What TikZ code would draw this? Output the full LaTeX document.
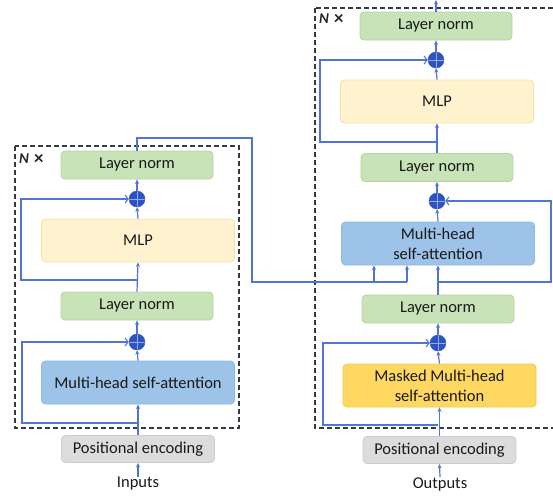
\documentclass[tikz,border=0pt]{standalone}
\usepackage{fontspec}
\setmainfont{Carlito}
\usetikzlibrary{arrows.meta,calc}

\definecolor{wire}{HTML}{5274D6}
\definecolor{lnfill}{HTML}{C8E3B8}
\definecolor{lnline}{HTML}{B2D69E}
\definecolor{mlpfill}{HTML}{FFF3CF}
\definecolor{mlpline}{HTML}{F2E2A6}
\definecolor{attfill}{HTML}{9EC3E8}
\definecolor{attline}{HTML}{8CB6E0}
\definecolor{maskfill}{HTML}{FFD861}
\definecolor{maskline}{HTML}{F2C84C}
\definecolor{pefill}{HTML}{DCDCDC}
\definecolor{peline}{HTML}{CDCDCD}
\definecolor{addfill}{HTML}{2D52C2}
\definecolor{frame}{HTML}{333A45}

\newcommand{\repsmark}{\textit{N}\hspace{5pt}\raisebox{-1.5pt}{\fontsize{19}{19}\selectfont ×}}

\tikzset{
  blk/.style={rounded corners=4pt, line width=0.8pt, inner sep=0pt, align=center,
    font=\fontsize{16.5}{19}\selectfont, text=black!90},
  lnbox/.style={blk, fill=lnfill, draw=lnline, minimum width=152pt, minimum height=28pt},
  mlpbox/.style={blk, fill=mlpfill, draw=mlpline, minimum width=193pt, minimum height=43pt},
  attbox/.style={blk, fill=attfill, draw=attline, minimum width=193pt, minimum height=43pt},
  maskbox/.style={blk, fill=maskfill, draw=maskline, minimum width=193pt, minimum height=43pt},
  pebox/.style={blk, fill=pefill, draw=peline, minimum width=153pt, minimum height=27pt},
  lbl/.style={inner sep=0pt, font=\fontsize{16.5}{19}\selectfont, text=black!90},
  addnode/.style={circle, fill=addfill, draw=addfill, minimum size=16pt, inner sep=0pt,
    path picture={
      \draw[wire!60!white, line width=0.7pt]
        (path picture bounding box.north) -- (path picture bounding box.south)
        (path picture bounding box.west) -- (path picture bounding box.east);}},
  wireline/.style={draw=wire, line width=1.2pt},
  fwd/.style={wireline, -{Stealth[length=4.5pt, width=4pt]}},
  skip/.style={wireline, -{Straight Barb[length=3pt, width=8pt, line width=1.1pt]}},
  stack/.style={draw=frame, line width=1.5pt, dash pattern=on 5pt off 3pt},
  reps/.style={inner sep=0pt, font=\bfseries\fontsize{15}{17}\selectfont, text=black!85}
}

\begin{document}
\begin{tikzpicture}[x=1pt, y=-1pt]
\useasboundingbox (0,0) rectangle (553,496);

% stacked-layer frames
\draw[stack] (15,146) rectangle (239,428);
\begin{scope}
  \clip (0,0) rectangle (553,496);
  \draw[stack] (315,8) rectangle (570,428);
\end{scope}
\node[reps, anchor=west] (repL) at (19,159) {\repsmark};
\node[reps, anchor=west] (repR) at (319,19) {\repsmark};

% ---------- encoder ----------
\node[lnbox]  (lnA)  at (137,165)   {Layer norm};
\node[addnode](addA) at (137,199)   {};
\node[mlpbox] (mlpA) at (138,240.5) {MLP};
\node[lnbox]  (lnB)  at (137,306)   {Layer norm};
\node[addnode](addB) at (137,342)   {};
\node[attbox] (attA) at (138,382.5) {Multi-head self-attention};
\node[pebox]  (peA)  at (138,449)   {Positional encoding};
\node[lbl]    (inA)  at (138,484)   {Inputs};

% ---------- decoder ----------
\node[lnbox]  (lnC)   at (436,26)    {Layer norm};
\node[addnode](addC)  at (436,60)    {};
\node[mlpbox] (mlpC)  at (437,101.5) {MLP};
\node[lnbox]  (lnD)   at (437,167.5) {Layer norm};
\node[addnode](addD)  at (437,201)   {};
\node[attbox] (attC)  at (438,243.5) {Multi-head\\[1pt]self-attention};
\node[lnbox]  (lnE)   at (438,309)   {Layer norm};
\node[addnode](addE)  at (438,343)   {};
\node[maskbox](maskC) at (439.5,385.5) {Masked Multi-head\\[1pt]self-attention};
\node[pebox]  (peC)   at (439.5,450) {Positional encoding};
\node[lbl]    (outC)  at (440,484)   {Outputs};

% branch points
\coordinate (brB) at (137,423);
\coordinate (brA) at (137,280);
\coordinate (brE) at (438,425);
\coordinate (brD) at (438,282);
\coordinate (brC) at (437,142);
\coordinate (top) at (436,0);

% encoder flow
\draw[fwd] (inA.north) -- (peA.south);
\draw[fwd] (peA.north) -- (attA.south);
\draw[fwd] (attA.north) -- (addB.south);
\draw[fwd] (addB.north) -- (lnB.south);
\draw[fwd] (lnB.north) -- (mlpA.south);
\draw[fwd] (mlpA.north) -- (addA.south);
\draw[fwd] (addA.north) -- (lnA.south);
\draw[skip] (brB) -- (22,423) -- (22,342) -- (addB.west);
\draw[skip] (brA) -- (21,280) -- (21,199) -- (addA.west);

% encoder output into decoder cross-attention
\draw[wireline] (lnA.north) -- (137,138) -- (252,138) -- (252,282) -- (407,282);
\draw[fwd] (374,282) -- (374,0 |- attC.south);
\draw[fwd] (407,282) -- (407,0 |- attC.south);

% decoder flow
\draw[fwd] (outC.north) -- (peC.south);
\draw[fwd] (peC.north) -- (439.5,0 |- maskC.south);
\draw[fwd] (439.5,0 |- maskC.north) -- (addE.south);
\draw[fwd] (addE.north) -- (lnE.south);
\draw[fwd] (lnE.north) -- (attC.south);
\draw[fwd] (attC.north) -- (addD.south);
\draw[fwd] (addD.north) -- (lnD.south);
\draw[fwd] (lnD.north) -- (mlpC.south);
\draw[fwd] (mlpC.north) -- (addC.south);
\draw[fwd] (addC.north) -- (lnC.south);
\draw[fwd] (lnC.north) -- (top);
\draw[skip] (brE) -- (323,425) -- (323,343) -- (addE.west);
\draw[skip] (brD) -- (551,282) -- (551,201) -- (addD.east);
\draw[skip] (brC) -- (320,142) -- (320,60) -- (addC.west);
\end{tikzpicture}
\end{document}
